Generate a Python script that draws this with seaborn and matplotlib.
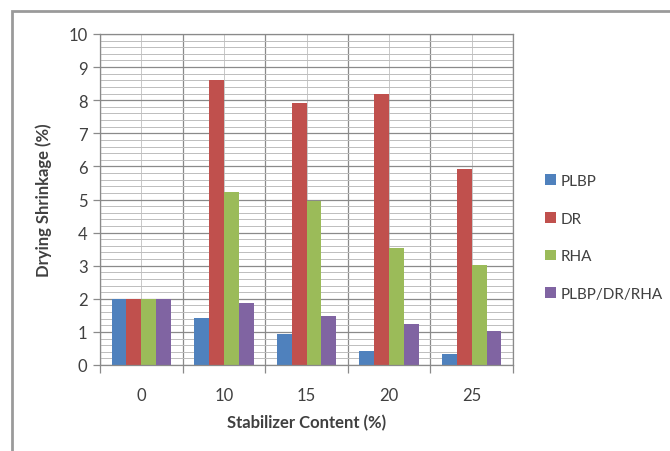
import numpy as np
import pandas as pd
import matplotlib.pyplot as plt
import seaborn as sns
from matplotlib.ticker import MultipleLocator
from matplotlib.patches import Rectangle

# data
contents = ['0', '10', '15', '20', '25']
plbp = [2.0, 1.42, 0.95, 0.42, 0.32]
dr = [2.0, 8.6, 7.92, 8.2, 5.92]
rha = [2.0, 5.22, 4.95, 3.52, 3.02]
mix = [2.0, 1.88, 1.48, 1.25, 1.03]
series = ['PLBP', 'DR', 'RHA', 'PLBP/DR/RHA']
colors = ['#4F81BD', '#C0504D', '#9BBB59', '#8064A2']

df = pd.DataFrame({
    'content': contents * 4,
    'value': plbp + dr + rha + mix,
    'series': np.repeat(series, len(contents)),
})

sns.set_style('white')
plt.rcParams['font.family'] = ['Lato', 'DejaVu Sans']

fig = plt.figure(figsize=(6.7, 4.52), dpi=100)
ax = fig.add_axes([100 / 670, 1 - 366 / 452, 413 / 670, 331 / 452])

sns.barplot(data=df, x='content', y='value', hue='series', order=contents,
            hue_order=series, palette=colors, width=0.72, saturation=1,
            edgecolor='none', ax=ax)

ax.set_xlim(-0.5, len(contents) - 0.5)
ax.set_ylim(0, 10)
ax.yaxis.set_major_locator(MultipleLocator(1))
ax.yaxis.set_minor_locator(MultipleLocator(0.2))
ax.set_xticks(np.arange(-0.5, len(contents)), minor=True)

ax.set_axisbelow(True)
ax.grid(which='major', axis='y', color='#8a8a8a', lw=0.9)
ax.grid(which='minor', axis='y', color='#bdbdbd', lw=0.7)
ax.grid(which='minor', axis='x', color='#8a8a8a', lw=0.9)
ax.grid(which='major', axis='x', color='#c8c8c8', lw=0.7)

ax.tick_params(axis='y', which='major', left=True, length=5, width=0.9,
               color='#8a8a8a', labelsize=12, labelcolor='#404040', pad=4)
ax.tick_params(axis='y', which='minor', left=False)
ax.tick_params(axis='x', which='major', bottom=False, labelsize=12,
               labelcolor='#404040', pad=12)
ax.tick_params(axis='x', which='minor', bottom=True, length=6, width=0.9,
               color='#8a8a8a')

for s in ax.spines.values():
    s.set_color('#8a8a8a')
    s.set_linewidth(0.9)

ax.set_xlabel('Stabilizer Content (%)', fontsize=12, fontweight='bold',
              color='#404040', labelpad=8)
ax.set_ylabel('Drying Shrinkage (%)', fontsize=12, fontweight='bold',
              color='#404040', labelpad=12)

leg = ax.legend(loc='center left', bbox_to_anchor=(1.045, 0.385), frameon=False,
                fontsize=11, handlelength=0.7, handleheight=0.7,
                handletextpad=0.3, labelspacing=1.55)
for t in leg.get_texts():
    t.set_color('#404040')

# outer chart-area border like the spreadsheet chart
fig.patches.append(Rectangle((12 / 670, -0.01), 1, 1 - 12 / 452 + 0.01,
                             transform=fig.transFigure, fill=False,
                             edgecolor='#9a9a9a', lw=2))

fig.savefig('out.png', dpi=100)
